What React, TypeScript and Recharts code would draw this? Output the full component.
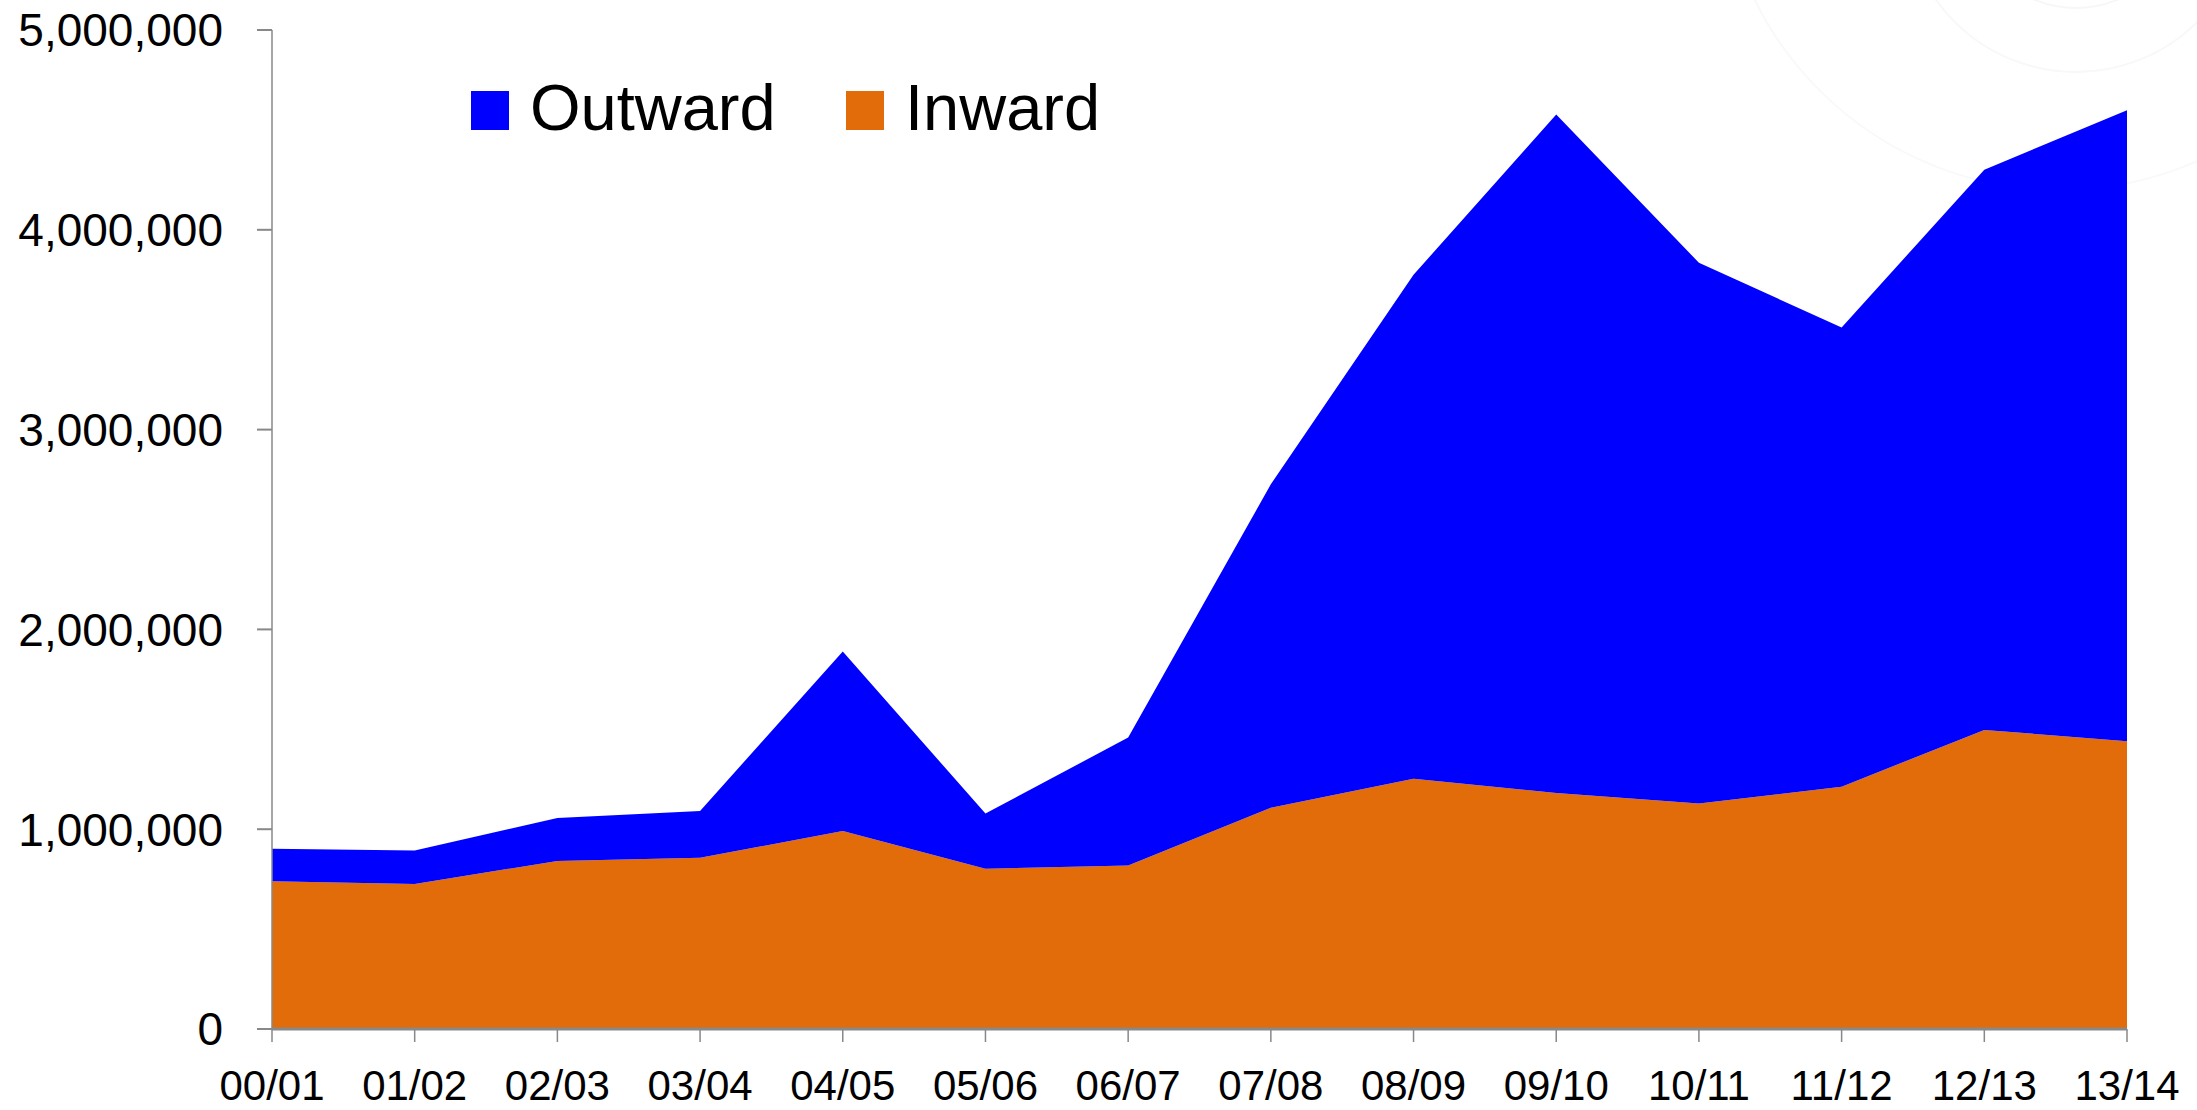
import React from 'react';
import { AreaChart, Area, XAxis, YAxis } from 'recharts';

// Financial years on the x axis
const years = ['00/01', '01/02', '02/03', '03/04', '04/05', '05/06', '06/07', '07/08', '08/09', '09/10', '10/11', '11/12', '12/13', '13/14'];

// Stacked series (Inward sits at the bottom, Outward on top of it)
const inward = [739000, 726000, 841000, 857000, 991000, 802000, 818000, 1107000, 1252000, 1181000, 1129000, 1213000, 1497000, 1440000];
const outward = [163000, 168000, 215000, 234000, 899000, 276000, 641000, 1619000, 2523000, 3396000, 2706000, 2298000, 2804000, 3158000];

const yTicks = [0, 1000000, 2000000, 3000000, 4000000, 5000000];

const BLUE = '#0000FF';
const ORANGE = '#E36C0A';
const FONT = '"Liberation Sans", Arial, sans-serif';

const data = years.map((year, i) => ({
  year,
  Inward: inward[i],
  Outward: outward[i],
}));

const App: React.FC = () => {
  return (
    <div style={{ position: 'absolute', left: 0, top: 0, width: 2197, height: 1110, background: '#fff', fontFamily: FONT }}>
      {/* faint watermark rings in the top right corner */}
      <svg width={2197} height={1110} style={{ position: 'absolute', left: 0, top: 0 }}>
        <circle cx={2076} cy={-100} r={108} fill="none" stroke="#f7f7f7" strokeWidth={2} />
        <circle cx={2076} cy={-100} r={172} fill="none" stroke="#f8f8f8" strokeWidth={2} />
        <circle cx={2060} cy={-150} r={340} fill="none" stroke="#f9f9f9" strokeWidth={2} />
      </svg>
      <div style={{ position: 'absolute', left: 0, top: 0 }}>
        <AreaChart width={2197} height={1110} data={data} margin={{ top: 30, right: 70, bottom: 0, left: 0 }}>
          <XAxis
            dataKey="year"
            height={81}
            tickSize={13}
            tickMargin={28}
            interval={0}
            axisLine={{ stroke: '#888', strokeWidth: 3 }}
            tickLine={{ stroke: '#888', strokeWidth: 1.5 }}
            tick={{ fill: '#000', fontSize: 42, fontFamily: FONT }}
          />
          <YAxis
            width={272}
            domain={[0, 5000000]}
            ticks={yTicks}
            tickSize={15}
            tickMargin={34}
            interval={0}
            tickFormatter={(v: number) => v.toLocaleString('en-US')}
            axisLine={{ stroke: '#888', strokeWidth: 1.5 }}
            tickLine={{ stroke: '#888', strokeWidth: 2 }}
            tick={{ fill: '#000', fontSize: 46, fontFamily: FONT }}
          />
          <Area type="linear" dataKey="Inward" stackId="1" stroke="none" fill={ORANGE} fillOpacity={1} isAnimationActive={false} />
          <Area type="linear" dataKey="Outward" stackId="1" stroke="none" fill={BLUE} fillOpacity={1} isAnimationActive={false} />
        </AreaChart>
      </div>
      {/* legend */}
      <svg width={2197} height={200} style={{ position: 'absolute', left: 0, top: 0 }}>
        <rect x={471} y={91} width={38} height={39} fill={BLUE} />
        <text x={530} y={130} fontSize={65} fontFamily={FONT} fill="#000">Outward</text>
        <rect x={846} y={91} width={38} height={39} fill={ORANGE} />
        <text x={905} y={130} fontSize={65} fontFamily={FONT} fill="#000">Inward</text>
      </svg>
    </div>
  );
};

export default App;
